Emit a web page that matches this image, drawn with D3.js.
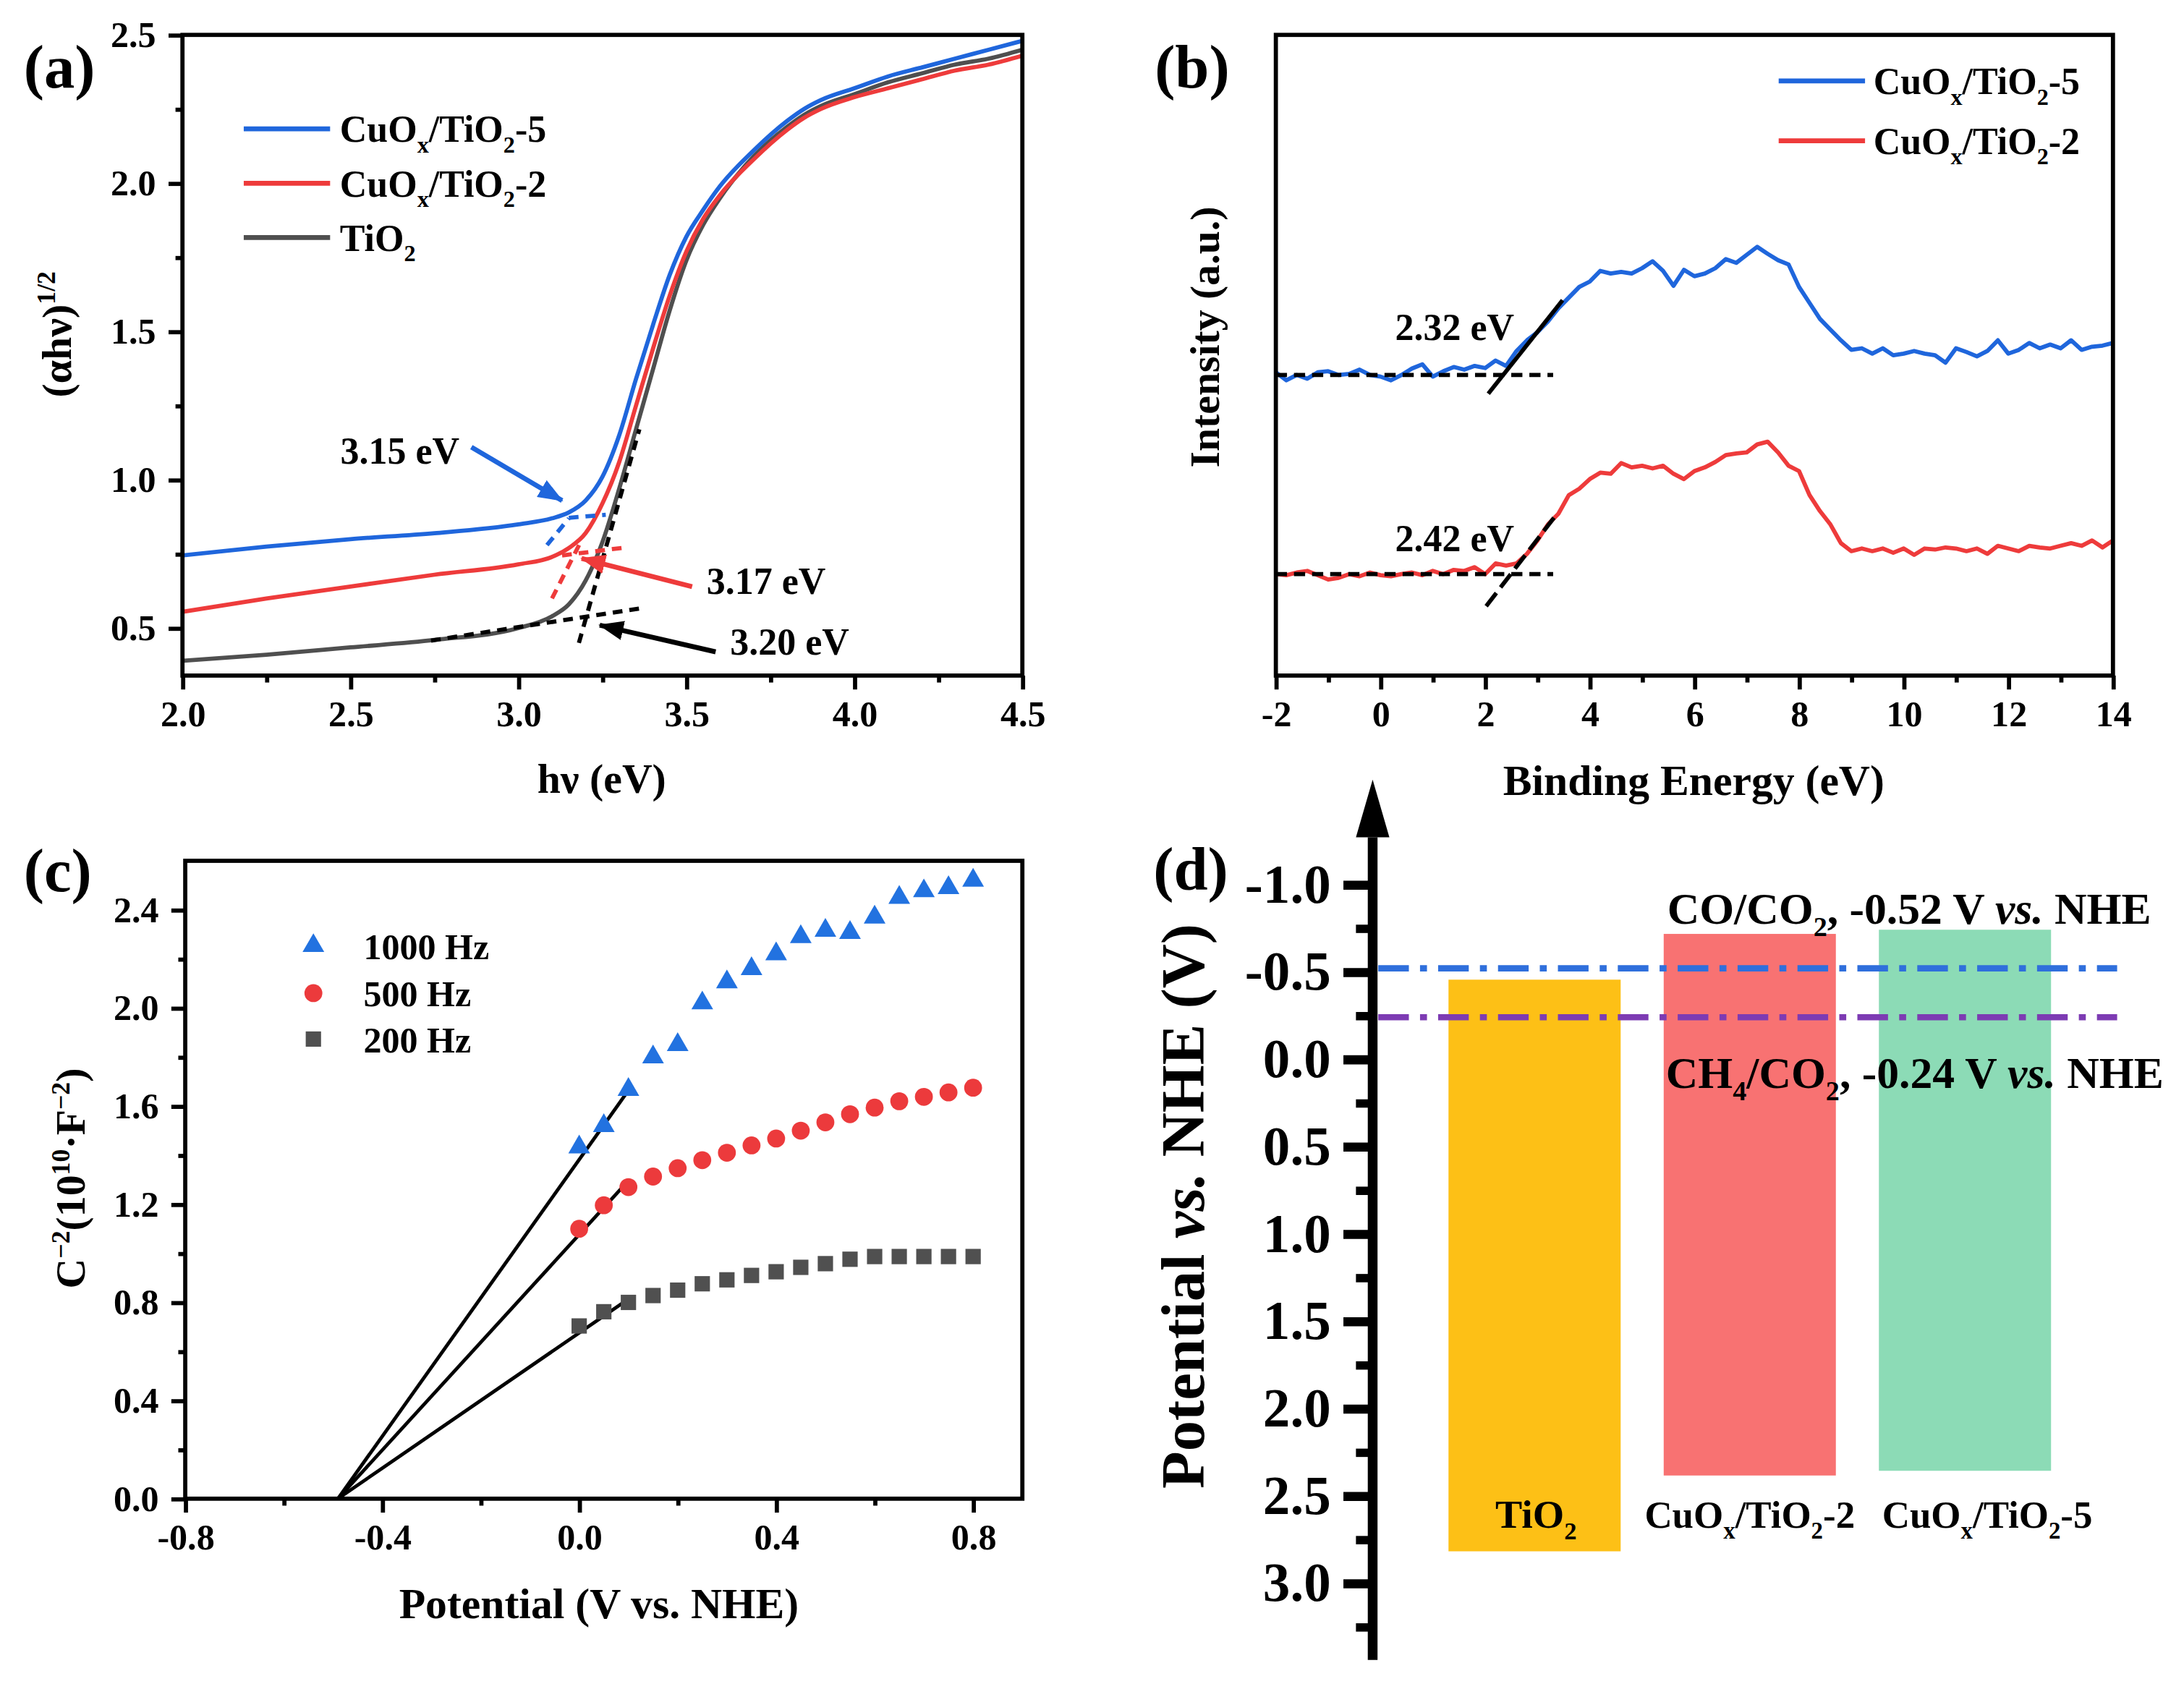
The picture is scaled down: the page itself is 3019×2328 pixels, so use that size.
<!DOCTYPE html>
<html>
<head>
<meta charset="utf-8">
<script src="https://cdn.jsdelivr.net/npm/d3@7"></script>
<style>
  html, body { margin: 0; padding: 0; background: #fff; }
  svg { display: block; }
  text { font-family: "Liberation Serif", "Times New Roman", serif; font-weight: bold; fill: #000; white-space: pre; }
</style>
</head>
<body>
<div id="fig"></div>
<script>
// ── data ─────────────────────────────────────────────────────────────
// (a) Tauc plot
const uvEnergy = [2.0, 2.25, 2.5, 2.75, 3.0, 3.1, 3.15, 3.2, 3.25, 3.3, 3.35, 3.4, 3.45, 3.5, 3.55, 3.6, 3.7, 3.8, 3.85, 3.9, 4.0, 4.1, 4.2, 4.3, 4.4, 4.5];
const uvCuOx5  = [0.745, 0.775, 0.80, 0.82, 0.85, 0.87, 0.89, 0.93, 1.01, 1.15, 1.34, 1.52, 1.69, 1.82, 1.91, 1.99, 2.11, 2.21, 2.25, 2.28, 2.32, 2.36, 2.39, 2.42, 2.45, 2.48];
const uvCuOx2  = [0.555, 0.60, 0.64, 0.68, 0.715, 0.74, 0.77, 0.82, 0.92, 1.06, 1.25, 1.44, 1.62, 1.77, 1.88, 1.96, 2.08, 2.18, 2.22, 2.25, 2.29, 2.32, 2.35, 2.38, 2.40, 2.43];
const uvTiO2   = [0.39, 0.41, 0.435, 0.46, 0.50, 0.54, 0.58, 0.66, 0.79, 0.97, 1.17, 1.37, 1.57, 1.74, 1.86, 1.95, 2.09, 2.19, 2.23, 2.26, 2.30, 2.34, 2.37, 2.40, 2.42, 2.45];
const uvGaps   = ["3.15 eV", "3.17 eV", "3.20 eV"];
// tangent segments [x0, y0, x1, y1]
const uvTangents = [
  [3.085, 0.78, 3.15, 0.87], [3.15, 0.872, 3.26, 0.882],
  [3.10, 0.60, 3.185, 0.79], [3.13, 0.745, 3.32, 0.772],
  [3.18, 0.45, 3.36, 1.17],  [2.74, 0.458, 3.36, 0.566]
];
const uvArrows = [[2.86, 1.11, 3.13, 0.93], [3.517, 0.64, 3.188, 0.735], [3.587, 0.42, 3.242, 0.51]];

// (b) VB-XPS
const vbEnergy = [-2.0,-1.8,-1.6,-1.4,-1.2,-1.0,-0.8,-0.6,-0.4,-0.2,0.0,0.2,0.4,0.6,0.8,1.0,1.2,1.4,1.6,1.8,2.0,2.2,2.4,2.6,2.8,3.0,3.2,3.4,3.6,3.8,4.0,4.2,4.4,4.6,4.8,5.0,5.2,5.4,5.6,5.8,6.0,6.2,6.4,6.6,6.8,7.0,7.2,7.4,7.6,7.8,8.0,8.2,8.4,8.6,8.8,9.0,9.2,9.4,9.6,9.8,10.0,10.2,10.4,10.6,10.8,11.0,11.2,11.4,11.6,11.8,12.0,12.2,12.4,12.6,12.8,13.0,13.2,13.4,13.6,13.8,14.0];
const vbCuOx5 = [568,553,563,556,568,570,563,565,573,563,560,553,563,575,583,560,570,578,573,580,576,590,580,608,628,643,663,688,708,728,738,758,753,756,753,763,776,758,730,760,748,753,763,780,773,788,803,790,778,770,728,698,668,648,628,610,613,603,613,600,603,608,603,600,586,613,606,598,608,628,603,610,623,613,620,613,628,610,616,618,623];
const vbCuOx2 = [190,188,193,196,188,180,183,190,186,193,188,186,190,193,188,196,190,198,196,203,190,210,206,210,228,253,283,303,338,350,368,380,378,398,390,393,388,393,378,368,383,390,400,413,416,418,433,438,418,393,383,338,308,283,248,233,238,233,238,230,238,226,238,236,240,238,233,238,228,243,238,233,243,240,238,243,248,243,253,240,253];
const vbEdges = ["2.32 eV", "2.42 eV"];
const vbBase  = [563, 190];
const vbSlopes = [[2.06, 528, 3.48, 703], [2.02, 130, 3.35, 300]];

// (c) Mott-Schottky
const msPotential = [0.0,0.05,0.1,0.15,0.2,0.25,0.3,0.35,0.4,0.45,0.5,0.55,0.6,0.65,0.7,0.75,0.8];
const ms1000 = [1.433,1.52,1.667,1.80,1.85,2.02,2.106,2.16,2.22,2.29,2.316,2.307,2.37,2.45,2.477,2.49,2.52];
const ms500  = [1.10,1.196,1.27,1.313,1.347,1.38,1.41,1.44,1.468,1.50,1.534,1.567,1.594,1.62,1.638,1.656,1.675];
const ms200  = [0.704,0.762,0.80,0.828,0.85,0.876,0.892,0.91,0.925,0.943,0.958,0.976,0.987,0.987,0.987,0.987,0.987];
const msFreq = ["1000 Hz", "500 Hz", "200 Hz"];
const msFitStart = [-0.49, 0];
const msFitEnd = [[0.095, 1.65], [0.095, 1.285], [0.09, 0.80]];

// (d) band structure
const bandSamples = ["TiO2", "CuOx/TiO2-2", "CuOx/TiO2-5"];
const bandCB = [-0.455, -0.717, -0.741];
const bandVB = [2.818, 2.384, 2.357];
const redoxPotentials = [-0.52, -0.24];

// ── helpers ─────────────────────────────────────────────────────────
const BLUE = "#1f66dc", RED = "#ee3b3b", GREY = "#4f4f4f";

const svg = d3.select("#fig").append("svg")
  .attr("width", 3019).attr("height", 2328)
  .attr("viewBox", "0 0 1568 1209");

// text with sub/superscripts: parts = [[str, "sub"|"sup"|null, italic]]
function rich(sel, parts, size) {
  let shift = 0;
  parts.forEach(([s, kind, italic]) => {
    const off = kind === "sub" ? 0.28 * size : kind === "sup" ? -0.38 * size : 0;
    const t = sel.append("tspan").attr("dy", off - shift).text(s);
    if (kind) t.attr("font-size", 0.62 * size);
    if (italic) t.attr("font-style", "italic");
    shift = off;
  });
  return sel;
}

function styleAxis(g, size, w) {
  g.attr("font-family", null).attr("font-size", null);
  g.selectAll("text").attr("font-size", size).attr("fill", "#000");
  g.selectAll(".tick line").attr("stroke", "#000").attr("stroke-width", w);
  g.select(".domain").remove();
}

function frame(x, y) {
  svg.append("rect")
    .attr("x", x.range()[0]).attr("y", y.range()[1])
    .attr("width", x.range()[1] - x.range()[0])
    .attr("height", y.range()[0] - y.range()[1])
    .attr("fill", "none").attr("stroke", "#000").attr("stroke-width", 3);
}

function bottomAxis(x, yPos, major, minor, fmt) {
  const g1 = svg.append("g").attr("transform", `translate(0,${yPos})`)
    .call(d3.axisBottom(x).tickValues(minor).tickSize(5).tickSizeOuter(0).tickFormat(""));
  styleAxis(g1, 26, 3);
  const g2 = svg.append("g").attr("transform", `translate(0,${yPos})`)
    .call(d3.axisBottom(x).tickValues(major).tickSize(10).tickSizeOuter(0).tickPadding(8).tickFormat(fmt));
  styleAxis(g2, 26, 3);
}

function leftAxis(y, xPos, major, minor, fmt) {
  const g1 = svg.append("g").attr("transform", `translate(${xPos},0)`)
    .call(d3.axisLeft(y).tickValues(minor).tickSize(5).tickSizeOuter(0).tickFormat(""));
  styleAxis(g1, 26, 3);
  const g2 = svg.append("g").attr("transform", `translate(${xPos},0)`)
    .call(d3.axisLeft(y).tickValues(major).tickSize(10).tickSizeOuter(0).tickPadding(9).tickFormat(fmt));
  styleAxis(g2, 26, 3);
}

function label(x, y, txt) {
  svg.append("text").attr("x", x).attr("y", y).attr("font-size", 44).text(txt);
}

// arrow heads
const defs = svg.append("defs");
[["ah-blue", BLUE], ["ah-red", RED], ["ah-black", "#000"]].forEach(([id, c]) => {
  defs.append("marker").attr("id", id)
    .attr("markerUnits", "userSpaceOnUse")
    .attr("markerWidth", 18).attr("markerHeight", 14)
    .attr("refX", 17).attr("refY", 7).attr("orient", "auto")
    .append("path").attr("d", "M0,0 L18,7 L0,14 Z").attr("fill", c);
});

const f1 = d => d.toFixed(1);

// ── (a) ─────────────────────────────────────────────────────────────
{
  const x = d3.scaleLinear().domain([2.0, 4.5]).range([131, 734]);
  const y = d3.scaleLinear().domain([0.34, 2.5]).range([485, 25]);

  const line = d3.line().x(d => x(d[0])).y(d => y(d[1])).curve(d3.curveMonotoneX);
  const series = [[uvTiO2, GREY], [uvCuOx2, RED], [uvCuOx5, BLUE]];
  series.forEach(([vals, c]) => {
    svg.append("path")
      .datum(uvEnergy.map((e, i) => [e, vals[i]]))
      .attr("d", line).attr("fill", "none").attr("stroke", c).attr("stroke-width", 3);
  });

  const tanColors = [BLUE, BLUE, RED, RED, "#000", "#000"];
  svg.selectAll("line.tan").data(uvTangents).join("line")
    .attr("x1", d => x(d[0])).attr("y1", d => y(d[1]))
    .attr("x2", d => x(d[2])).attr("y2", d => y(d[3]))
    .attr("stroke", (d, i) => tanColors[i]).attr("stroke-width", 3)
    .attr("stroke-dasharray", "7,5");

  const arrowIds = ["ah-blue", "ah-red", "ah-black"];
  const arrowColors = [BLUE, RED, "#000"];
  svg.selectAll("line.arr").data(uvArrows).join("line")
    .attr("x1", d => x(d[0])).attr("y1", d => y(d[1]))
    .attr("x2", d => x(d[2])).attr("y2", d => y(d[3]))
    .attr("stroke", (d, i) => arrowColors[i]).attr("stroke-width", 3.5)
    .attr("marker-end", (d, i) => `url(#${arrowIds[i]})`);

  // gap labels
  const gapPos = [[2.47, 1.055], [3.56, 0.615], [3.63, 0.41]];
  uvGaps.forEach((g, i) => {
    svg.append("text").attr("x", x(gapPos[i][0])).attr("y", y(gapPos[i][1]))
      .attr("font-size", 27).text(g);
  });

  frame(x, y);
  bottomAxis(x, 485, [2.0, 2.5, 3.0, 3.5, 4.0, 4.5], [2.25, 2.75, 3.25, 3.75, 4.25], f1);
  leftAxis(y, 131, [0.5, 1.0, 1.5, 2.0, 2.5], [0.75, 1.25, 1.75, 2.25], f1);

  // legend
  const leg = [[BLUE, "5"], [RED, "2"]];
  const legY = [92.5, 131.5, 170.5];
  leg.forEach(([c, n], i) => {
    svg.append("line").attr("x1", 175).attr("x2", 237).attr("y1", legY[i]).attr("y2", legY[i])
      .attr("stroke", c).attr("stroke-width", 3.5);
    rich(svg.append("text").attr("x", 244).attr("y", legY[i] + 9.5).attr("font-size", 27),
      [["CuO"], ["x", "sub"], ["/TiO"], ["2", "sub"], ["-" + n]], 27);
  });
  svg.append("line").attr("x1", 175).attr("x2", 237).attr("y1", legY[2]).attr("y2", legY[2])
    .attr("stroke", GREY).attr("stroke-width", 3.5);
  rich(svg.append("text").attr("x", 244).attr("y", legY[2] + 9.5).attr("font-size", 27),
    [["TiO"], ["2", "sub"]], 27);

  svg.append("text").attr("x", 432).attr("y", 569).attr("font-size", 30)
    .attr("text-anchor", "middle").text("hν (eV)");
  rich(svg.append("text").attr("transform", "translate(51,240) rotate(-90)")
    .attr("font-size", 30).attr("text-anchor", "middle"),
    [["(αhν)"], ["1/2", "sup"]], 30);
  label(17, 63, "(a)");
}

// ── (b) ─────────────────────────────────────────────────────────────
{
  const x = d3.scaleLinear().domain([-2, 14]).range([916, 1517]);
  const y = d3.scaleLinear().domain([0, 1200]).range([485, 25]);
  const line = d3.line().x(d => x(d[0])).y(d => y(d[1]));

  [[vbCuOx5, BLUE], [vbCuOx2, RED]].forEach(([vals, c]) => {
    svg.append("path")
      .datum(vbEnergy.map((e, i) => [e, vals[i]]))
      .attr("d", line).attr("fill", "none").attr("stroke", c).attr("stroke-width", 3)
      .attr("stroke-linejoin", "round");
  });

  vbBase.forEach(v => {
    svg.append("line").attr("x1", x(-2)).attr("x2", x(3.3)).attr("y1", y(v)).attr("y2", y(v))
      .attr("stroke", "#000").attr("stroke-width", 3).attr("stroke-dasharray", "8,5");
  });
  vbSlopes.forEach((s, i) => {
    svg.append("line").attr("x1", x(s[0])).attr("y1", y(s[1])).attr("x2", x(s[2])).attr("y2", y(s[3]))
      .attr("stroke", "#000").attr("stroke-width", 3)
      .attr("stroke-dasharray", i === 0 ? null : "12,5");
  });
  const edgePos = [[0.28, 628], [0.28, 233]];
  vbEdges.forEach((t, i) => {
    svg.append("text").attr("x", x(edgePos[i][0])).attr("y", y(edgePos[i][1]))
      .attr("font-size", 27).text(t);
  });

  frame(x, y);
  bottomAxis(x, 485, d3.range(-2, 15, 2), d3.range(-1, 14, 2), d => String(d));

  const legY = [58, 101];
  [[BLUE, "5"], [RED, "2"]].forEach(([c, n], i) => {
    svg.append("line").attr("x1", 1277).attr("x2", 1339).attr("y1", legY[i]).attr("y2", legY[i])
      .attr("stroke", c).attr("stroke-width", 3.5);
    rich(svg.append("text").attr("x", 1345).attr("y", legY[i] + 9.5).attr("font-size", 27),
      [["CuO"], ["x", "sub"], ["/TiO"], ["2", "sub"], ["-" + n]], 27);
  });

  svg.append("text").attr("x", 1216).attr("y", 571).attr("font-size", 31)
    .attr("text-anchor", "middle").text("Binding Energy (eV)");
  svg.append("text").attr("transform", "translate(875,242) rotate(-90)")
    .attr("font-size", 30).attr("text-anchor", "middle").text("Intensity (a.u.)");
  label(829, 63, "(b)");
}

// ── (c) ─────────────────────────────────────────────────────────────
{
  const x = d3.scaleLinear().domain([-0.8, 0.9]).range([133, 734]);
  const y = d3.scaleLinear().domain([0, 2.6]).range([1076, 618]);

  const sets = [
    [ms1000, d3.symbolTriangle, 105, "#2272e0"],
    [ms500,  d3.symbolCircle,   130, "#ec3a3c"],
    [ms200,  d3.symbolSquare,   121, "#505050"]
  ];

  msFitEnd.forEach(e => {
    svg.append("line").attr("x1", x(msFitStart[0])).attr("y1", y(msFitStart[1]))
      .attr("x2", x(e[0])).attr("y2", y(e[1]))
      .attr("stroke", "#000").attr("stroke-width", 2.5);
  });

  sets.forEach(([vals, sym, size, c]) => {
    svg.append("g").selectAll("path")
      .data(msPotential.map((p, i) => [p, vals[i]]))
      .join("path")
      .attr("transform", d => `translate(${x(d[0])},${y(d[1])})`)
      .attr("d", d3.symbol(sym, size))
      .attr("fill", c);
  });

  frame(x, y);
  bottomAxis(x, 1076, [-0.8, -0.4, 0, 0.4, 0.8], [-0.6, -0.2, 0.2, 0.6], f1);
  leftAxis(y, 133, [0, 0.4, 0.8, 1.2, 1.6, 2.0, 2.4], [0.2, 0.6, 1.0, 1.4, 1.8, 2.2], f1);

  const legY = [679, 713, 746];
  sets.forEach(([vals, sym, size, c], i) => {
    svg.append("path").attr("transform", `translate(225,${legY[i]})`)
      .attr("d", d3.symbol(sym, size)).attr("fill", c);
    svg.append("text").attr("x", 261).attr("y", legY[i] + 9.5).attr("font-size", 26).text(msFreq[i]);
  });

  svg.append("text").attr("x", 430).attr("y", 1162).attr("font-size", 31)
    .attr("text-anchor", "middle").text("Potential (V vs. NHE)");
  rich(svg.append("text").attr("transform", "translate(61,846) rotate(-90)")
    .attr("font-size", 30).attr("text-anchor", "middle"),
    [["C"], ["−2", "sup"], ["(10"], ["10", "sup"], ["·F"], ["−2", "sup"], [")"]], 30);
  label(17, 640, "(c)");
}

// ── (d) ─────────────────────────────────────────────────────────────
{
  const axX = 985.5;
  const y = d3.scaleLinear().domain([-1, 3]).range([635, 1136.6]);
  const x = d3.scaleBand().domain(bandSamples).range([1024.5, 1488]).paddingInner(0.2).paddingOuter(0.1);
  const barColors = ["#fdc016", "#f87272", "#8cdbb6"];

  svg.selectAll("rect.band").data(bandSamples).join("rect")
    .attr("x", d => x(d)).attr("width", x.bandwidth())
    .attr("y", (d, i) => y(bandCB[i]))
    .attr("height", (d, i) => y(bandVB[i]) - y(bandCB[i]))
    .attr("fill", (d, i) => barColors[i]);

  const redoxColors = ["#2f6fdc", "#7d3bb3"];
  redoxPotentials.forEach((v, i) => {
    svg.append("line").attr("x1", axX + 4).attr("x2", 1520).attr("y1", y(v)).attr("y2", y(v))
      .attr("stroke", redoxColors[i]).attr("stroke-width", 4.5)
      .attr("stroke-dasharray", "22,8,5,8");
  });

  rich(svg.append("text").attr("x", 1197).attr("y", 663).attr("font-size", 32),
    [["CO/CO"], ["2", "sub"], [", -0.52 V "], ["vs.", null, true], [" NHE"]], 32);
  rich(svg.append("text").attr("x", 1196).attr("y", 781).attr("font-size", 32),
    [["CH"], ["4", "sub"], ["/CO"], ["2", "sub"], [", -0.24 V "], ["vs.", null, true], [" NHE"]], 32);

  const names = [
    [["TiO"], ["2", "sub"]],
    [["CuO"], ["x", "sub"], ["/TiO"], ["2", "sub"], ["-2"]],
    [["CuO"], ["x", "sub"], ["/TiO"], ["2", "sub"], ["-5"]]
  ];
  const nameShift = [1, 0, 16];
  bandSamples.forEach((s, i) => {
    const fs = i ? 27.5 : 29;
    rich(svg.append("text").attr("x", x(s) + x.bandwidth() / 2 + nameShift[i]).attr("y", 1097)
      .attr("font-size", fs).attr("text-anchor", "middle"), names[i], fs);
  });

  // axis with arrow
  const gMin = svg.append("g").attr("transform", `translate(${axX},0)`)
    .call(d3.axisLeft(y)
      .tickValues(d3.range(-0.75, 3.3, 0.5)).tickSize(12).tickSizeOuter(0).tickFormat(""));
  styleAxis(gMin, 39, 6);
  const gMaj = svg.append("g").attr("transform", `translate(${axX},0)`)
    .call(d3.axisLeft(y).tickValues(d3.range(-1, 3.01, 0.5)).tickSize(21).tickSizeOuter(0)
      .tickPadding(9).tickFormat(f1));
  styleAxis(gMaj, 39, 6.5);

  svg.append("line").attr("x1", axX).attr("x2", axX).attr("y1", y(-1.27)).attr("y2", y(3.44))
    .attr("stroke", "#000").attr("stroke-width", 7);
  svg.append("path")
    .attr("d", `M${axX},${y(-1.6)} L${axX - 12},${y(-1.27)} L${axX + 12},${y(-1.27)} Z`)
    .attr("fill", "#000");

  rich(svg.append("text").attr("transform", "translate(864,866) rotate(-90)")
    .attr("font-size", 44).attr("text-anchor", "middle"),
    [["Potential "], ["vs.", null, true], [" NHE (V)"]], 44);
  label(828, 639, "(d)");
}
</script>
</body>
</html>
